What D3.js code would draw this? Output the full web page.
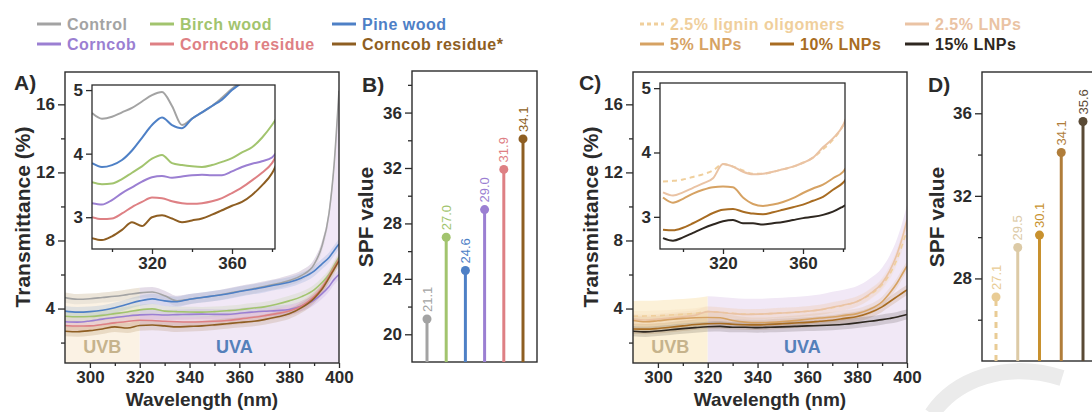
<!DOCTYPE html>
<html>
<head>
<meta charset="utf-8">
<script src="https://cdn.jsdelivr.net/npm/d3@7/dist/d3.min.js"></script>
<style>
  body { margin: 0; background: #fff; }
  svg { display: block; font-family: "Liberation Sans", Arial, sans-serif; font-weight: bold; }
</style>
</head>
<body>
<svg id="fig" width="1092" height="412"></svg>
<script>
// ---- Data ----
const wavelengths = [290, 295, 300, 305, 310, 315, 320, 325, 330, 335, 340, 345, 350,
  355, 360, 365, 370, 375, 380, 385, 390, 393, 396, 398, 400];

// panel A/B : biomass sources
const namesA = ["Control", "Birch wood", "Pine wood", "Corncob", "Corncob residue", "Corncob residue*"];
const controlT = [4.64, 4.55, 4.58, 4.65, 4.72, 4.82, 4.92, 4.97, 4.75, 4.45, 4.55, 4.65, 4.75,
  4.88, 5.02, 5.15, 5.3, 5.45, 5.65, 5.95, 6.6, 7.6, 9.6, 12.4, 16.8];
const birchT = [3.55, 3.52, 3.53, 3.6, 3.7, 3.8, 3.92, 3.98, 3.85, 3.82, 3.8, 3.79, 3.82,
  3.87, 3.93, 4.02, 4.1, 4.25, 4.45, 4.7, 5.1, 5.5, 6.0, 6.5, 7.0];
const pineT = [3.85, 3.79, 3.82, 3.9, 4.05, 4.25, 4.45, 4.57, 4.45, 4.4, 4.55, 4.65, 4.75,
  4.85, 5.0, 5.12, 5.25, 5.4, 5.55, 5.8, 6.2, 6.6, 7.0, 7.4, 7.8];
const corncobT = [3.22, 3.2, 3.27, 3.38, 3.47, 3.56, 3.63, 3.65, 3.62, 3.64, 3.66, 3.67, 3.66,
  3.66, 3.72, 3.79, 3.84, 3.88, 3.94, 4.15, 4.5, 4.85, 5.3, 5.7, 6.0];
const residueT = [3.0, 2.97, 2.98, 3.06, 3.16, 3.24, 3.31, 3.3, 3.25, 3.22, 3.21, 3.22, 3.25,
  3.3, 3.38, 3.47, 3.58, 3.7, 3.85, 4.15, 4.7, 5.2, 5.9, 6.4, 6.9];
const residueStarT = [2.67, 2.64, 2.7, 2.8, 2.92, 2.86, 3.0, 3.03, 2.98, 2.92, 2.95, 2.98, 3.04,
  3.11, 3.18, 3.24, 3.35, 3.5, 3.69, 4.05, 4.6, 5.1, 5.8, 6.3, 6.8];
const spfA = [21.1, 27.0, 24.6, 29.0, 31.9, 34.1];

// panel C/D : lignin loading
const namesC = ["2.5% lignin oligomers", "2.5% LNPs", "5% LNPs", "10% LNPs", "15% LNPs"];
const oligomerT = [3.55, 3.56, 3.58, 3.62, 3.66, 3.72, 3.82, 3.78, 3.72, 3.67, 3.67, 3.7, 3.74,
  3.78, 3.84, 3.92, 4.05, 4.2, 4.42, 4.8, 5.4, 6.0, 6.9, 7.7, 8.6];
const lnp25T = [3.38, 3.33, 3.38, 3.45, 3.52, 3.6, 3.82, 3.78, 3.7, 3.66, 3.67, 3.7, 3.74,
  3.78, 3.84, 3.92, 4.08, 4.22, 4.42, 4.85, 5.5, 6.2, 7.2, 8.1, 9.2];
const lnp5T = [3.3, 3.22, 3.28, 3.36, 3.42, 3.46, 3.47, 3.46, 3.3, 3.2, 3.17, 3.19, 3.23,
  3.29, 3.37, 3.44, 3.5, 3.6, 3.7, 3.95, 4.4, 4.9, 5.5, 6.0, 6.5];
const lnp10T = [2.8, 2.79, 2.83, 2.9, 2.98, 3.06, 3.11, 3.12, 3.08, 3.05, 3.04, 3.07, 3.11,
  3.15, 3.19, 3.25, 3.31, 3.42, 3.53, 3.75, 4.1, 4.4, 4.7, 4.9, 5.1];
const lnp15T = [2.67, 2.63, 2.68, 2.75, 2.82, 2.88, 2.93, 2.95, 2.9, 2.9, 2.88, 2.9, 2.92,
  2.95, 2.98, 3.0, 3.03, 3.08, 3.16, 3.25, 3.35, 3.42, 3.5, 3.58, 3.65];
const spfC = [27.1, 29.5, 30.1, 34.1, 35.6];

// ---- Styling ----
const INK = "#2b2b2b";
const colorsA = ["#a3a3a3", "#a2c46e", "#4e80c6", "#9b7fd2", "#de8084", "#8e5e22"];
const colorsC = ["#f0cf9c", "#eac3a4", "#d6a263", "#a86c22", "#2e2720"];
const stemColorsC = ["#e9cc95", "#dccaa6", "#c8912e", "#b07d3a", "#5a4a35"];
const BAND = 0.3;

const svg = d3.select("#fig");

const toPoints = vals => vals.map((v, i) => ({ w: wavelengths[i], v }));

function styleAxis(sel, fs) {
  sel.select(".domain").remove();
  sel.selectAll(".tick line").attr("stroke", INK).attr("stroke-width", 1.3);
  sel.selectAll(".tick text").attr("fill", INK).style("font-size", fs + "px");
}

function frame(x, y, stroke) {
  const [x0, x1] = x.range(), [y0, y1] = y.range();
  svg.append("rect")
    .attr("x", x0).attr("y", y1).attr("width", x1 - x0).attr("height", y0 - y1)
    .attr("fill", "none").attr("stroke", INK).attr("stroke-width", stroke || 1.4);
}

function clipFor(id, x, y) {
  const [x0, x1] = x.range(), [y0, y1] = y.range();
  svg.append("clipPath").attr("id", id).append("rect")
    .attr("x", x0).attr("y", y1).attr("width", x1 - x0).attr("height", y0 - y1);
  return `url(#${id})`;
}

function axes(x, y, o) {
  const bottom = y.range()[0], left = x.range()[0];
  if (o.xTicks) {
    svg.append("g").attr("transform", `translate(0,${bottom})`)
      .call(d3.axisBottom(x).tickValues(o.xTicks).tickSize(5).tickPadding(3).tickFormat(d3.format("d")))
      .call(s => styleAxis(s, o.fs));
    svg.append("g").attr("transform", `translate(0,${bottom})`)
      .call(d3.axisBottom(x).tickValues(o.xMinor).tickSize(3).tickFormat(""))
      .call(s => styleAxis(s, o.fs));
  }
  svg.append("g").attr("transform", `translate(${left},0)`)
    .call(d3.axisLeft(y).tickValues(o.yTicks).tickSize(o.tick || 7).tickPadding(3).tickFormat(d3.format("d")))
    .call(s => styleAxis(s, o.fs));
  if (o.yMinor) {
    svg.append("g").attr("transform", `translate(${left},0)`)
      .call(d3.axisLeft(y).tickValues(o.yMinor).tickSize(4).tickFormat(""))
      .call(s => styleAxis(s, o.fs));
  }
}

function spectrumPanel(p) {
  const x = d3.scaleLinear().domain([290, 400]).range(p.xRange);
  const y = d3.scaleLinear().domain([0.8, 17.9]).range([363, 72]);
  const clip = clipFor(p.id + "main", x, y);
  const g = svg.append("g").attr("clip-path", clip);

  // UV region fill under the curve envelope
  const env = wavelengths.map((w, i) => ({ w, v: d3.max(p.series, s => s.values[i]) + p.envPad }));
  const envArea = d3.area().curve(d3.curveMonotoneX)
    .x(d => x(d.w)).y0(y.range()[0]).y1(d => y(d.v));
  g.append("path").datum(env.filter(d => d.w <= 320)).attr("d", envArea).attr("fill", p.uvbFill);
  g.append("path").datum(env.filter(d => d.w >= 320)).attr("d", envArea).attr("fill", "#f1e8f6");

  const band = d3.area().curve(d3.curveMonotoneX)
    .x(d => x(d.w)).y0(d => y(d.v - BAND)).y1(d => y(d.v + BAND));
  const line = d3.line().curve(d3.curveMonotoneX).x(d => x(d.w)).y(d => y(d.v));

  p.series.forEach(s => {
    g.append("path").datum(toPoints(s.values)).attr("d", band)
      .attr("fill", s.color).attr("opacity", 0.16);
  });
  p.series.forEach(s => {
    g.append("path").datum(toPoints(s.values)).attr("d", line)
      .attr("fill", "none").attr("stroke", s.color).attr("stroke-width", 1.6)
      .attr("stroke-dasharray", s.dash ? "5,4" : null);
  });

  frame(x, y);
  axes(x, y, {
    xTicks: d3.range(300, 401, 20), xMinor: d3.range(310, 400, 20),
    yTicks: [4, 8, 12, 16], yMinor: [2, 6, 10, 14], fs: 17
  });

  svg.append("text").attr("x", x(305)).attr("y", 353).attr("text-anchor", "middle")
    .style("font-size", "18px").attr("fill", "#c6b38c").text("UVB");
  svg.append("text").attr("x", x(358)).attr("y", 353).attr("text-anchor", "middle")
    .style("font-size", "18px").attr("fill", "#5580ba").text("UVA");

  svg.append("text").attr("x", (p.xRange[0] + p.xRange[1]) / 2).attr("y", 406)
    .attr("text-anchor", "middle").style("font-size", "19px").attr("fill", INK)
    .text("Wavelength (nm)");
  svg.append("text").attr("transform", `translate(${p.yTitleX},217) rotate(-90)`)
    .attr("text-anchor", "middle").style("font-size", "21px").attr("fill", INK)
    .text("Transmittance (%)");
  svg.append("text").attr("x", p.letterX).attr("y", 90).style("font-size", "21px")
    .attr("fill", INK).text(p.letter);

  // ---- inset ----
  const ix = d3.scaleLinear().domain(p.insetDomain).range(p.insetX);
  const iy = d3.scaleLinear().domain([2.5, 5.08]).range(p.insetY);
  svg.append("rect").attr("x", p.insetX[0]).attr("y", p.insetY[1])
    .attr("width", p.insetX[1] - p.insetX[0]).attr("height", p.insetY[0] - p.insetY[1])
    .attr("fill", "#fff");
  const ig = svg.append("g").attr("clip-path", clipFor(p.id + "inset", ix, iy));
  const iline = d3.line().curve(d3.curveMonotoneX).x(d => ix(d.w)).y(d => iy(d.v));
  p.series.forEach(s => {
    ig.append("path").datum(toPoints(s.values).filter(d => d.w <= 385)).attr("d", iline)
      .attr("fill", "none").attr("stroke", s.color).attr("stroke-width", 2)
      .attr("stroke-dasharray", s.dash ? "5,4" : null);
  });
  frame(ix, iy, 1.3);
  axes(ix, iy, { xTicks: [320, 360], xMinor: [300, 340, 380], yTicks: [3, 4, 5], fs: 17, tick: 6 });
}

function stemPanel(p) {
  const x = d3.scalePoint().domain(p.names).range(p.stemX);
  const y = d3.scaleLinear().domain(p.yDomain).range([p.bottom, p.top]);
  const fx = d3.scaleLinear().range(p.frameX);
  frame(fx, y);
  axes(fx, y, { yTicks: p.yTicks, yMinor: p.yMinor, fs: 17 });

  p.names.forEach((n, i) => {
    const v = p.values[i], cx = x(n);
    svg.append("line").attr("x1", cx).attr("x2", cx).attr("y1", p.bottom).attr("y2", y(v))
      .attr("stroke", p.colors[i]).attr("stroke-width", 3)
      .attr("stroke-dasharray", i === 0 && p.dashFirst ? "6,5" : null);
    svg.append("circle").attr("cx", cx).attr("cy", y(v)).attr("r", 4.5).attr("fill", p.colors[i]);
    svg.append("text").attr("transform", `translate(${cx},${y(v) - 7}) rotate(-90)`)
      .attr("dy", "0.36em").style("font-size", "13px").style("font-weight", "normal")
      .attr("fill", p.colors[i]).text(v.toFixed(1));
  });

  svg.append("text").attr("transform", `translate(${p.yTitleX},217) rotate(-90)`)
    .attr("text-anchor", "middle").style("font-size", "21px").attr("fill", INK).text("SPF value");
  svg.append("text").attr("x", p.letterX).attr("y", p.letterY).style("font-size", "21px")
    .attr("fill", INK).text(p.letter);
}

// ---- Panels ----
const seriesA = [controlT, birchT, pineT, corncobT, residueT, residueStarT]
  .map((values, i) => ({ name: namesA[i], values, color: colorsA[i] }));
const seriesC = [oligomerT, lnp25T, lnp5T, lnp10T, lnp15T]
  .map((values, i) => ({ name: namesC[i], values, color: colorsC[i], dash: i === 0 }));

spectrumPanel({
  id: "a", series: seriesA, xRange: [65, 339], envPad: 0.3, uvbFill: "#fbf2e4",
  insetDomain: [290, 381.5], insetX: [92, 275], insetY: [249, 85],
  yTitleX: 30, letter: "A)", letterX: 14
});
spectrumPanel({
  id: "c", series: seriesC, xRange: [633, 907], envPad: 0.9, uvbFill: "#fcf1d8",
  insetDomain: [288.5, 381], insetX: [660, 845], insetY: [249, 83],
  yTitleX: 598, letter: "C)", letterX: 579
});

stemPanel({
  names: namesA, values: spfA, colors: colorsA, stemX: [427, 523], frameX: [412, 537],
  yDomain: [18, 39], top: 71, bottom: 362, yTicks: [20, 24, 28, 32, 36],
  yMinor: [22, 26, 30, 34, 38], yTitleX: 373, letter: "B)", letterX: 362, letterY: 92
});
stemPanel({
  names: namesC, values: spfC, colors: stemColorsC, stemX: [996, 1083], frameX: [982, 1120],
  yDomain: [24, 38], top: 72, bottom: 361, yTicks: [28, 32, 36],
  yMinor: [26, 30, 34], yTitleX: 944, letter: "D)", letterX: 928, letterY: 92, dashFirst: true
});

// ---- Legends ----
function legend(items) {
  items.forEach(it => {
    svg.append("line").attr("x1", it.x).attr("x2", it.x + 24).attr("y1", it.y).attr("y2", it.y)
      .attr("stroke", it.color).attr("stroke-width", 3)
      .attr("stroke-dasharray", it.dash ? "4,3" : null);
    svg.append("text").attr("x", it.x + 30).attr("y", it.y + 6).style("font-size", "16px")
      .style("letter-spacing", "0.5px").attr("fill", it.color).text(it.name);
  });
}
const colA = [37, 150, 332];
legend(namesA.map((name, i) => ({
  name, color: colorsA[i], x: colA[i % 3], y: i < 3 ? 24 : 44
})));
const legC = [[640, 24], [905, 24], [640, 44], [770, 44], [905, 44]];
legend(namesC.map((name, i) => ({
  name, color: colorsC[i], dash: i === 0, x: legC[i][0], y: legC[i][1]
})));

// faint watermark swoosh in the lower right corner
svg.append("path").attr("d", "M932,414 C955,380 1005,360 1062,378")
  .attr("fill", "none").attr("stroke", "#ebebeb").attr("stroke-width", 16);
</script>
</body>
</html>
